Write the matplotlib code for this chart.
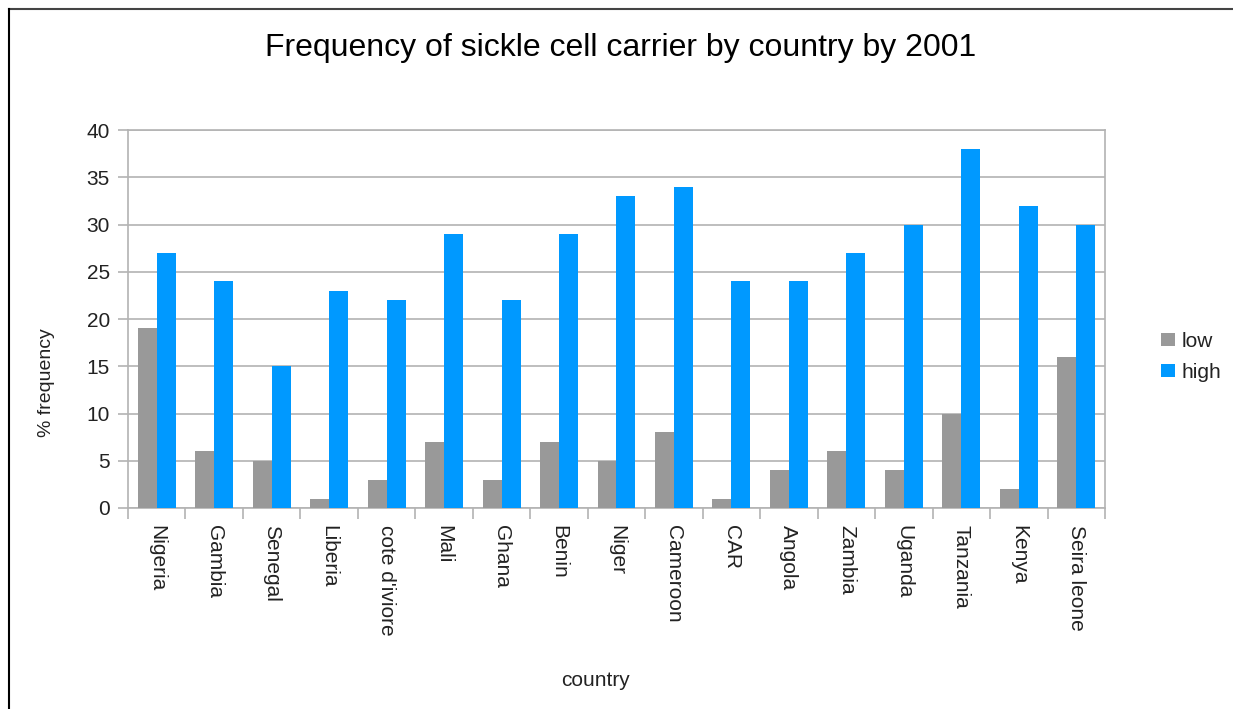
import matplotlib.pyplot as plt
import numpy as np
from matplotlib.lines import Line2D

plt.rcParams['font.family'] = ['Liberation Sans', 'DejaVu Sans']

# Carrier frequency (%) per country
countries = ["Nigeria", "Gambia", "Senegal", "Liberia", "cote d'iviore", "Mali", "Ghana",
             "Benin", "Niger", "Cameroon", "CAR", "Angola", "Zambia", "Uganda",
             "Tanzania", "Kenya", "Seira leone"]
low = [19, 6, 5, 1, 3, 7, 3, 7, 5, 8, 1, 4, 6, 4, 10, 2, 16]
high = [27, 24, 15, 23, 22, 29, 22, 29, 33, 34, 24, 24, 27, 30, 38, 32, 30]

grid_col = '#b3b3b3'
txt = '#222222'

fig = plt.figure(figsize=(12.33, 7.09), dpi=100)
ax = fig.add_axes([0.1038, 0.2835, 0.7924, 0.5331])

x = np.arange(len(countries))
w = 0.33
ax.bar(x - w / 2, low, width=w, color='#999999', label='low', zorder=3)
ax.bar(x + w / 2, high, width=w, color='#0099ff', label='high', zorder=3)

ax.set_xlim(-0.5, len(countries) - 0.5)
ax.set_ylim(0, 40)
ax.set_yticks(range(0, 41, 5))
ax.yaxis.grid(True, color=grid_col, linewidth=1.2, zorder=0)

# ticks sit on the category boundaries, labels at the centres
ax.set_xticks(np.arange(len(countries) + 1) - 0.5)
ax.set_xticklabels([])
ax.set_xticks(x, minor=True)
ax.set_xticklabels(countries, minor=True, rotation=270, fontsize=15, va='top', ha='center',
                   color=txt)
ax.tick_params(axis='x', which='minor', length=0, pad=12)
ax.tick_params(axis='x', which='major', length=8, width=1.2, color=grid_col)
ax.tick_params(axis='y', length=7, width=1.2, color=grid_col, labelsize=15, pad=6,
               labelcolor=txt)

for s in ax.spines.values():
    s.set_color(grid_col)
    s.set_linewidth(1.2)

ax.set_ylabel('% frequency', fontsize=14, color=txt)
ax.yaxis.set_label_coords(-0.075, 0.333)
ax.set_xlabel('country', fontsize=15, color=txt)
ax.xaxis.set_label_coords(0.478, -0.43)

fig.text(0.503, 0.932, 'Frequency of sickle cell carrier by country by 2001',
         ha='center', va='center', fontsize=23, color='black')

fig.legend(loc='center left', bbox_to_anchor=(0.942, 0.497), frameon=False,
           fontsize=15, handlelength=0.67, handleheight=0.6, handletextpad=0.3,
           labelspacing=0.58, borderaxespad=0, borderpad=0, labelcolor=txt)

# chart frame, top and left edges
fig.add_artist(Line2D([9 / 1233, 1.0], [1 - 9 / 709] * 2, color='#444444', linewidth=1.5))
fig.add_artist(Line2D([9 / 1233] * 2, [0.0, 1 - 9 / 709], color='black', linewidth=1.5))

fig.savefig('out.png', dpi=100)
